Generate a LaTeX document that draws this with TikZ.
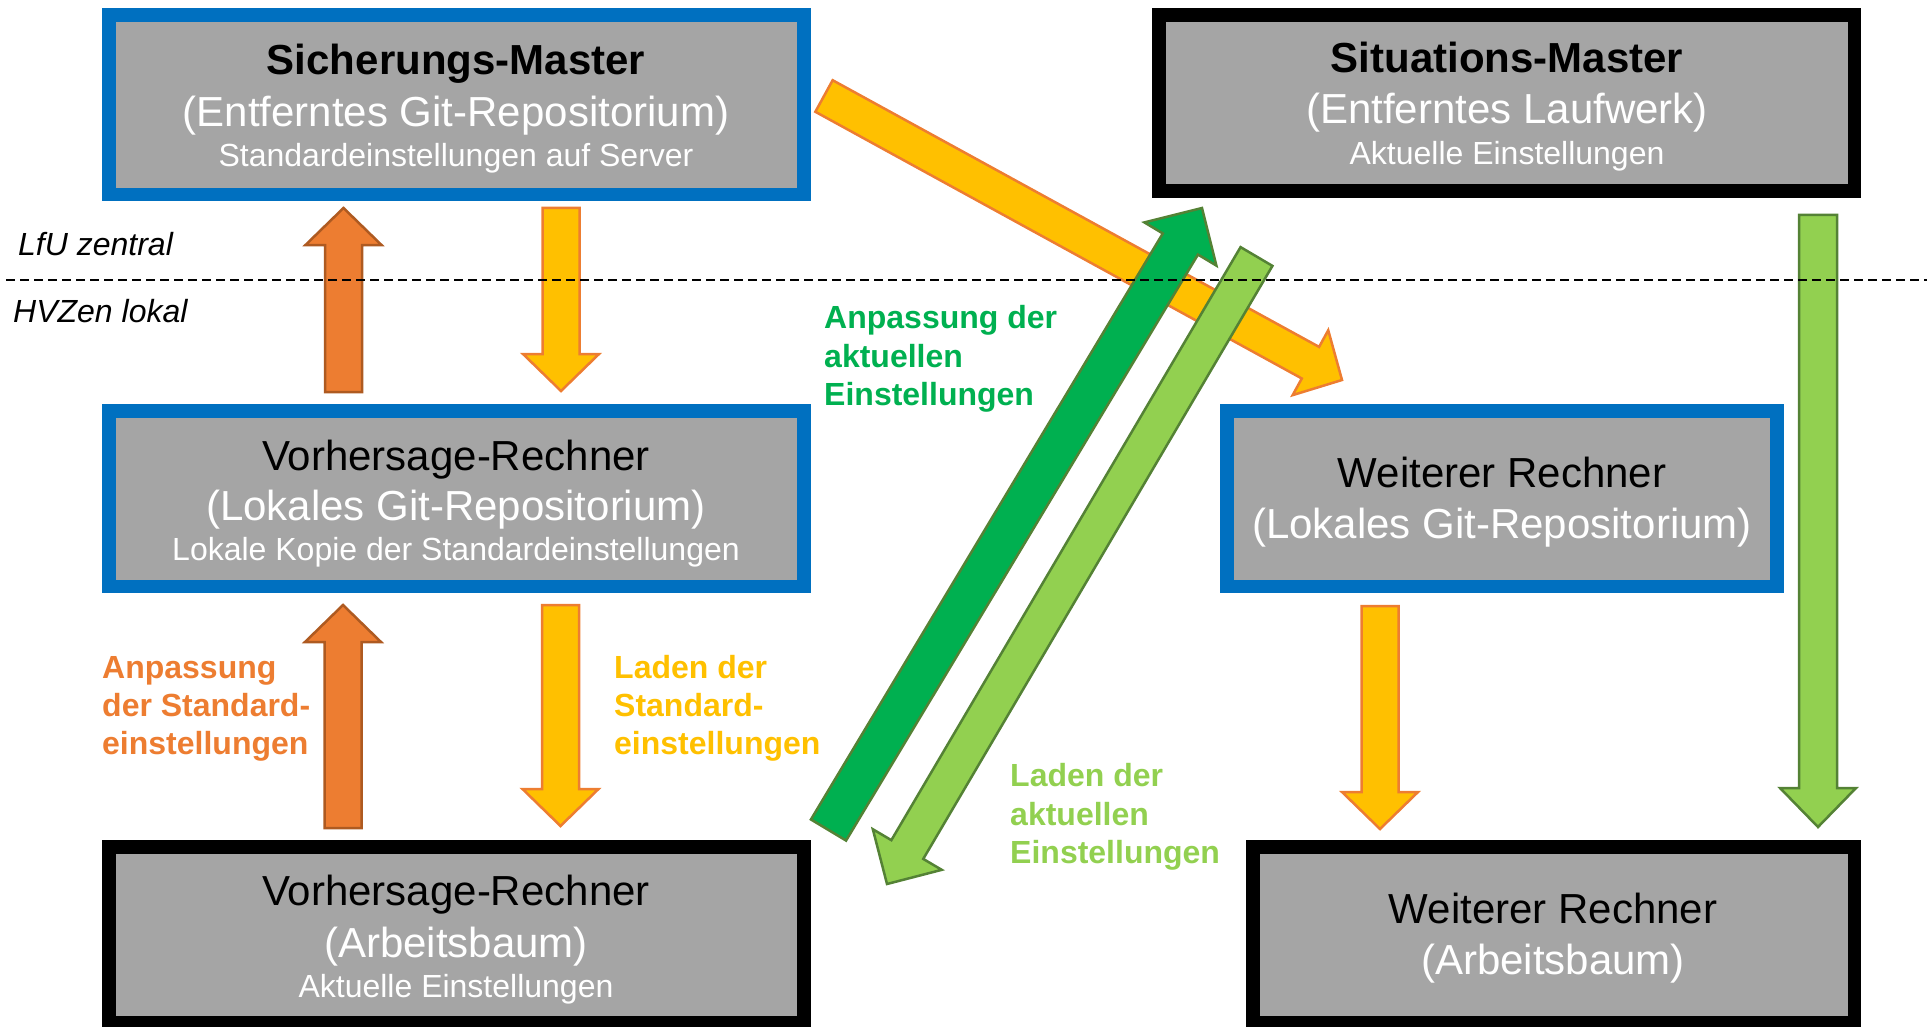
\documentclass[tikz,border=0pt]{standalone}
\usepackage{fontspec}
\setmainfont{Liberation Sans}
\usetikzlibrary{calc}
\definecolor{blueF}{HTML}{0070C0}
\definecolor{grayF}{HTML}{A5A5A5}
\definecolor{orangeF}{HTML}{ED7D31}
\definecolor{orangeD}{HTML}{AE5A21}
\definecolor{yellowF}{HTML}{FFC000}
\definecolor{greenF}{HTML}{00B050}
\definecolor{greenL}{HTML}{92D050}
\definecolor{greenD}{HTML}{548235}
\newcommand\blockarrow[6]{%
  \coordinate (bahead) at ($(#3)!#6!(#2)$);
  \draw[#1] ($(#2)!#4!90:(#3)$) -- ($(bahead)!#4!90:(#3)$) -- ($(bahead)!#5!90:(#3)$) -- (#3)
    -- ($(bahead)!#5!-90:(#3)$) -- ($(bahead)!#4!-90:(#3)$) -- ($(#2)!#4!-90:(#3)$) -- cycle;}
\tikzset{
  framebox/.style={rectangle, inner sep=0pt, fill=grayF, line width=13.5pt},
  bluebox/.style={framebox, draw=blueF},
  blackbox/.style={framebox, draw=black},
  big/.style={inner sep=0pt, anchor=base, font=\fontsize{42}{50}\selectfont},
  bigw/.style={big, text=white},
  small/.style={inner sep=0pt, anchor=base, text=white, font=\fontsize{32}{38}\selectfont},
  lab/.style={inner sep=0pt, anchor=base west, font=\fontsize{32}{38}\selectfont\bfseries},
  zone/.style={inner sep=0pt, anchor=base west, font=\fontsize{32}{38}\selectfont\itshape},
  arrO/.style={fill=orangeF, draw=orangeD, line width=2.5pt, line join=miter},
  arrY/.style={fill=yellowF, draw=orangeF, line width=2.5pt, line join=miter},
  arrG/.style={fill=greenF, draw=greenD, line width=2.5pt, line join=miter},
  arrL/.style={fill=greenL, draw=greenD, line width=2.5pt, line join=miter},
}
\begin{document}
\begin{tikzpicture}[x=1pt,y=-1pt]
\useasboundingbox (0,0) rectangle (1927,1027);
% boxes
\node[bluebox, minimum width=695pt, minimum height=179.5pt] (sm) at (456.5,104.75) {};
\node[blackbox, minimum width=695.5pt, minimum height=176pt] (sit) at (1506.75,103) {};
\node[bluebox, minimum width=695pt, minimum height=175.5pt] (vr) at (456.5,498.5) {};
\node[blackbox, minimum width=695pt, minimum height=176pt] (va) at (456.5,935) {};
\node[bluebox, minimum width=550pt, minimum height=175.5pt] (wr) at (1502,498.5) {};
\node[blackbox, minimum width=601.5pt, minimum height=176pt] (wa) at (1553.75,935) {};
% box texts
\node[big, font=\fontsize{42}{50}\selectfont\bfseries] (sm1) at (456,75) {Sicherungs-Master};
\node[bigw] (sm2) at (456,127) {(Entferntes Git-Repositorium)};
\node[small] (sm3) at (456,167) {Standardeinstellungen auf Server};
\node[big, font=\fontsize{42}{50}\selectfont\bfseries] (sit1) at (1507,73) {Situations-Master};
\node[bigw] (sit2) at (1507,124) {(Entferntes Laufwerk)};
\node[small] (sit3) at (1507,165) {Aktuelle Einstellungen};
\node[big] (vr1) at (456,470) {Vorhersage-Rechner};
\node[bigw] (vr2) at (456,520) {(Lokales Git-Repositorium)};
\node[small] (vr3) at (456,560) {Lokale Kopie der Standardeinstellungen};
\node[big] (va1) at (456,905) {Vorhersage-Rechner};
\node[bigw] (va2) at (456,957) {(Arbeitsbaum)};
\node[small] (va3) at (456,997) {Aktuelle Einstellungen};
\node[big] (wr1) at (1502,487) {Weiterer Rechner};
\node[bigw] (wr2) at (1502,538) {(Lokales Git-Repositorium)};
\node[big] (wa1) at (1553,923) {Weiterer Rechner};
\node[bigw] (wa2) at (1553,974) {(Arbeitsbaum)};
% arrow end points
\coordinate (a1s) at (343.5,392); \coordinate (a1e) at (343.5,208);
\coordinate (a2s) at (561,208);   \coordinate (a2e) at (561,391);
\coordinate (a3s) at (343,828);   \coordinate (a3e) at (343,605);
\coordinate (a4s) at (560.5,605); \coordinate (a4e) at (560.5,826);
\coordinate (a5s) at (1380,606);  \coordinate (a5e) at (1380,829);
\coordinate (a6s) at (1818,215);  \coordinate (a6e) at (1818,827);
\coordinate (d1s) at (824,96);    \coordinate (d1e) at (1342,380);
\coordinate (d2s) at (828.5,830); \coordinate (d2e) at (1202,208);
\coordinate (d3s) at (1256.5,256.5); \coordinate (d3e) at (887,884);
% arrows
\blockarrow{arrO}{a1s}{a1e}{18.5pt}{38pt}{37pt}
\blockarrow{arrY}{a2s}{a2e}{18.5pt}{38pt}{37pt}
\blockarrow{arrO}{a3s}{a3e}{18.5pt}{38pt}{37pt}
\blockarrow{arrY}{a4s}{a4e}{18.5pt}{38pt}{37pt}
\blockarrow{arrY}{a5s}{a5e}{18.5pt}{38pt}{37pt}
\blockarrow{arrL}{a6s}{a6e}{19pt}{38pt}{39pt}
\blockarrow{arrY}{d1s}{d1e}{18pt}{37pt}{36pt}
\blockarrow{arrG}{d2s}{d2e}{20.5pt}{42pt}{42pt}
\blockarrow{arrL}{d3s}{d3e}{18.5pt}{40pt}{40pt}
% zone separator
\coordinate (zl) at (6,280); \coordinate (zr) at (1927,280);
\draw[line width=2.2pt, dash pattern=on 9pt off 5pt] (zl) -- (zr);
\node[zone] (lfu) at (18,255) {LfU zentral};
\node[zone] (hvz) at (13,322) {HVZen lokal};
% labels
\node[lab, text=greenF] (g1) at (824,328) {Anpassung der};
\node[lab, text=greenF] (g2) at (824,367) {aktuellen};
\node[lab, text=greenF] (g3) at (824,405) {Einstellungen};
\node[lab, text=orangeF] (o1) at (102,678) {Anpassung};
\node[lab, text=orangeF] (o2) at (102,716) {der Standard-};
\node[lab, text=orangeF] (o3) at (102,754) {einstellungen};
\node[lab, text=yellowF] (y1) at (614,678) {Laden der};
\node[lab, text=yellowF] (y2) at (614,716) {Standard-};
\node[lab, text=yellowF] (y3) at (614,754) {einstellungen};
\node[lab, text=greenL] (l1) at (1010,786) {Laden der};
\node[lab, text=greenL] (l2) at (1010,825) {aktuellen};
\node[lab, text=greenL] (l3) at (1010,863) {Einstellungen};
\end{tikzpicture}
\end{document}
